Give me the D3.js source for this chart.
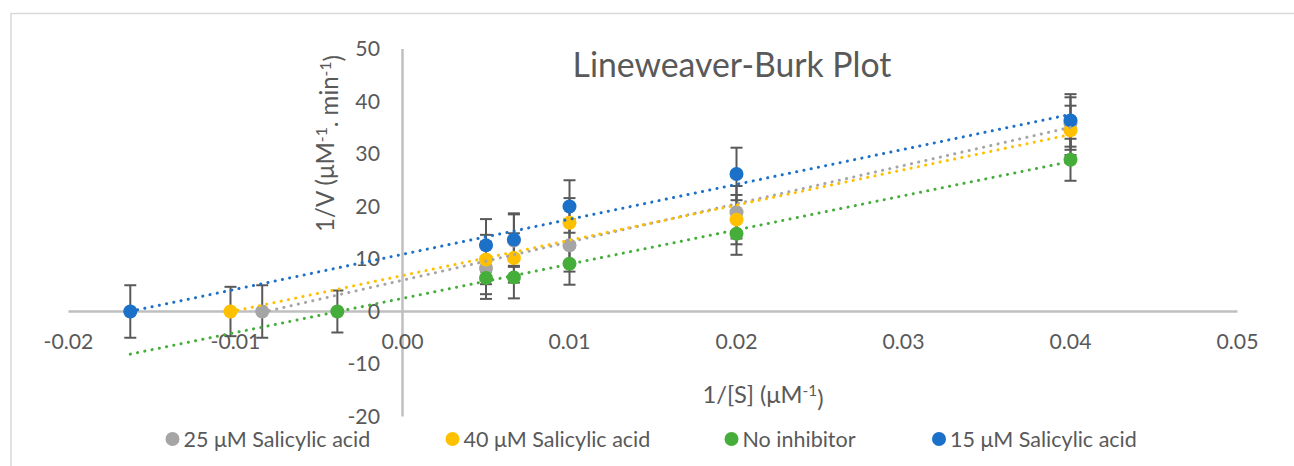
<!DOCTYPE html>
<html><head><meta charset="utf-8">
<script src="https://cdn.jsdelivr.net/npm/d3@7"></script>
<style>
body{margin:0;background:#fff}
text{font-family:Lato,"Open Sans",sans-serif;fill:#595959}
</style>
</head><body><svg id="c" width="1294" height="466"></svg>
<script>
// ---- data ----
const seriesNames = ["25 μM Salicylic acid", "40 μM Salicylic acid", "No inhibitor", "15 μM Salicylic acid"];
const seriesColors = ["#a5a5a5", "#ffc000", "#45ad39", "#1b70c8"];
const xGray   = [-0.0084, 0.005, 0.00667, 0.01, 0.02, 0.04];
const yGray   = [0, 8.3, 13.5, 12.6, 18.9, 35.8];
const eGray   = [5, 5, 5, 5, 5, 5];
const xYellow = [-0.0103, 0.005, 0.00667, 0.01, 0.02, 0.04];
const yYellow = [0, 9.9, 10.2, 16.9, 17.5, 34.5];
const eYellow = [4.7, 4.7, 4.7, 4.7, 4.7, 4.7];
const xGreen  = [-0.0039, 0.005, 0.00667, 0.01, 0.02, 0.04];
const yGreen  = [0, 6.4, 6.5, 9.1, 14.8, 28.9];
const eGreen  = [4, 4, 4, 4, 4, 4];
const xBlue   = [-0.0163, 0.005, 0.00667, 0.01, 0.02, 0.04];
const yBlue   = [0, 12.6, 13.7, 20.0, 26.2, 36.4];
const eBlue   = [5, 5, 5, 5, 5, 5];
const trendFrom = [-0.0084, -0.0103, -0.0163, -0.0163];
const xTicks = [-0.02, -0.01, 0, 0.01, 0.02, 0.03, 0.04, 0.05];
const yTicks = [-20, -10, 0, 10, 20, 30, 40, 50];
const titleText = "Lineweaver-Burk Plot";

const series = [
  {x: xGray, y: yGray, e: eGray},
  {x: xYellow, y: yYellow, e: eYellow},
  {x: xGreen, y: yGreen, e: eGreen},
  {x: xBlue, y: yBlue, e: eBlue}
];

// ---- layout ----
const svg = d3.select("#c");
const x = d3.scaleLinear().domain([-0.02, 0.05]).range([68.5, 1237.5]);
const y = d3.scaleLinear().domain([-20, 50]).range([416.5, 49]);
const loc = d3.formatLocale({decimal: ".", thousands: ",", grouping: [3], currency: ["", ""], minus: "-"});

function fit(sel, w){
  const n = sel.node(); const base = 20;
  sel.style("font-size", base + "px");
  const m = n.getComputedTextLength();
  sel.style("font-size", (base * w / m) + "px");
}

// chart border (top & left visible)
svg.append("rect").attr("x", 11).attr("y", 13.5).attr("width", 1300).attr("height", 500)
  .attr("fill", "none").attr("stroke", "#d9d9d9").attr("stroke-width", 1.5);

// title
const t = svg.append("text").attr("x", 732).attr("y", 77).attr("text-anchor", "middle").text(titleText);
fit(t, 319);

// axes lines
svg.append("line").attr("x1", x(-0.02)).attr("x2", x(0.05)).attr("y1", y(0)).attr("y2", y(0))
  .attr("stroke", "#bfbfbf").attr("stroke-width", 2.5);
svg.append("line").attr("x1", x(0)).attr("x2", x(0)).attr("y1", y(50)).attr("y2", y(-20))
  .attr("stroke", "#bfbfbf").attr("stroke-width", 2.5);

// tick labels
const fmtX = loc.format(".2f");
const fmtY = loc.format("d");
const xl = svg.append("g").selectAll("text").data(xTicks).join("text")
  .attr("x", d => x(d)).attr("y", y(0) + 30).attr("dy", "0.35em").attr("text-anchor", "middle")
  .text(d => fmtX(d));
const probe = xl.filter(d => d === 0); fit(probe, 42);
const tickFs = probe.style("font-size");
xl.style("font-size", tickFs);
svg.append("g").selectAll("text").data(yTicks).join("text")
  .attr("x", 380).attr("y", d => y(d)).attr("dy", "0.33em").attr("text-anchor", "end")
  .style("font-size", tickFs).text(d => fmtY(d));

// axis titles
const yt = svg.append("text").attr("transform", "translate(334,143.5) rotate(-90)").attr("text-anchor", "middle");
yt.append("tspan").text("1/V (μM");
yt.append("tspan").attr("dy", "-0.45em").attr("font-size", "0.65em").text("-1");
yt.append("tspan").attr("dy", "0.45em").text(". min");
yt.append("tspan").attr("dy", "-0.45em").attr("font-size", "0.65em").text("-1");
yt.append("tspan").attr("dy", "0.45em").text(")");
fit(yt, 177);

const xt = svg.append("text").attr("x", 763).attr("y", 403).attr("text-anchor", "middle");
xt.append("tspan").text("1/[S] (μM");
xt.append("tspan").attr("dy", "-0.45em").attr("font-size", "0.65em").text("-1");
xt.append("tspan").attr("dy", "0.45em").text(")");
fit(xt, 121);

// error bars
const eg = svg.append("g").attr("stroke", "#595959").attr("stroke-width", 2);
series.forEach(s => {
  s.x.forEach((xv, i) => {
    const yv = s.y[i], ev = s.e[i];
    eg.append("line").attr("x1", x(xv)).attr("x2", x(xv)).attr("y1", y(yv + ev)).attr("y2", y(yv - ev));
    eg.append("line").attr("x1", x(xv) - 6).attr("x2", x(xv) + 6).attr("y1", y(yv + ev)).attr("y2", y(yv + ev));
    eg.append("line").attr("x1", x(xv) - 6).attr("x2", x(xv) + 6).attr("y1", y(yv - ev)).attr("y2", y(yv - ev));
  });
});

// markers
series.forEach((s, k) => {
  svg.append("g").selectAll("circle").data(s.x.map((xv, i) => [xv, s.y[i]])).join("circle")
    .attr("cx", d => x(d[0])).attr("cy", d => y(d[1])).attr("r", 7).attr("fill", seriesColors[k]);
});

// linear trendlines (least squares)
function linfit(xs, ys){
  const mx = d3.mean(xs), my = d3.mean(ys);
  let sxy = 0, sxx = 0;
  xs.forEach((v, i) => { sxy += (v - mx) * (ys[i] - my); sxx += (v - mx) * (v - mx); });
  const b = sxy / sxx; return {b, a: my - b * mx};
}
series.forEach((s, k) => {
  const f = linfit(s.x, s.y);
  const x0 = trendFrom[k], x1 = d3.max(s.x);
  svg.append("line").attr("x1", x(x0)).attr("y1", y(f.a + f.b * x0)).attr("x2", x(x1)).attr("y2", y(f.a + f.b * x1))
    .attr("stroke", seriesColors[k]).attr("stroke-width", 3).attr("stroke-linecap", "round")
    .attr("stroke-dasharray", "0.1 7.3");
});

// legend
const legX = [172.5, 452.5, 731.5, 939];
const lg = svg.append("g");
seriesNames.forEach((n, k) => {
  lg.append("circle").attr("cx", legX[k]).attr("cy", 439).attr("r", 7).attr("fill", seriesColors[k]);
  const lt = lg.append("text").attr("x", legX[k] + 11).attr("y", 439).attr("dy", "0.36em").text(n);
  if (k === 0) fit(lt, 187);
});
const lfs = lg.select("text").style("font-size");
lg.selectAll("text").style("font-size", lfs);
</script>
</body></html>
